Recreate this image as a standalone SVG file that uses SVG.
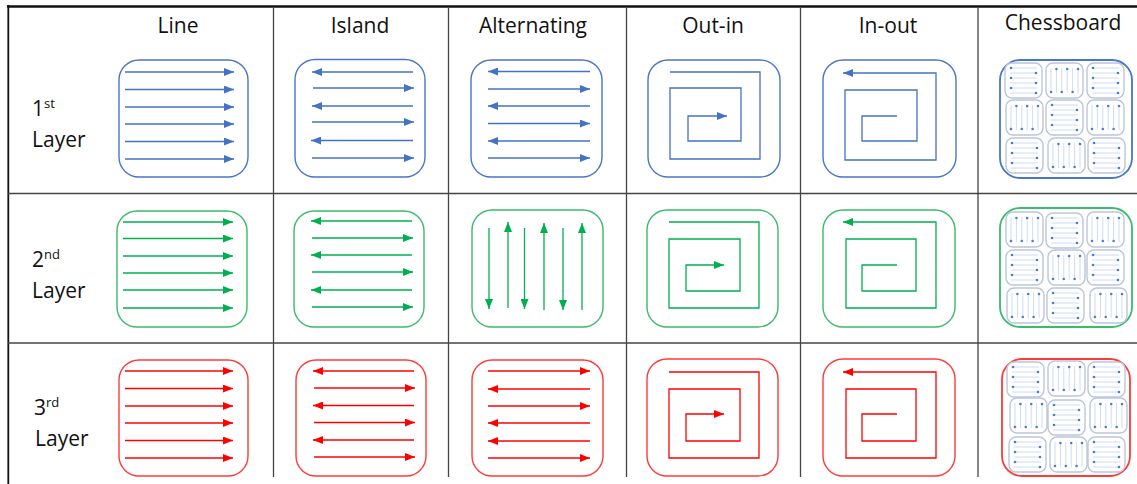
<svg xmlns="http://www.w3.org/2000/svg" xmlns:xlink="http://www.w3.org/1999/xlink" width="1137" height="484" viewBox="0 0 1137 484">
<style>
  .hdr{font-family:"Open Sans","Liberation Sans",sans-serif;font-size:21px;fill:#111;text-anchor:middle}
  .lbl{font-family:"Open Sans","Liberation Sans",sans-serif;font-size:21px;fill:#111}
  .sup{font-size:13px}
  .grid{stroke:#444;stroke-width:1.3;fill:none}
  .box{fill:none;stroke-width:1.4}
  .b{stroke:#4A76C6}
  .g{stroke:#3BBB6B}
  .r{stroke:#FF3A3A}
  .ab{stroke:#4472C4;stroke-width:1.3;fill:none;marker-end:url(#mb)}
  .ag{stroke:#00B050;stroke-width:1.3;fill:none;marker-end:url(#mg)}
  .ar{stroke:#FF0000;stroke-width:1.3;fill:none;marker-end:url(#mr)}
  .cell{fill:#fff;stroke:#BCC5D9;stroke-width:1.4}
  .cl{stroke:#D0DCF1;stroke-width:1}
  .dot{fill:#4F7BCB}
  .cb{fill:none;stroke-width:1.8}
</style>
<defs>
  <marker id="mb" viewBox="0 0 10 8" refX="10" refY="4" markerWidth="10" markerHeight="8" markerUnits="userSpaceOnUse" orient="auto"><path d="M0,0 L10,4 L0,8 z" fill="#4472C4"/></marker>
  <marker id="mg" viewBox="0 0 10 8" refX="10" refY="4" markerWidth="10" markerHeight="8" markerUnits="userSpaceOnUse" orient="auto"><path d="M0,0 L10,4 L0,8 z" fill="#00B050"/></marker>
  <marker id="mr" viewBox="0 0 10 8" refX="10" refY="4" markerWidth="10" markerHeight="8" markerUnits="userSpaceOnUse" orient="auto"><path d="M0,0 L10,4 L0,8 z" fill="#FF0000"/></marker>
  <g id="hcell">
    <rect class="cell" x="0" y="0" width="37" height="35" rx="7"/>
    <g class="cl">
      <line x1="5" y1="5" x2="32" y2="5"/><line x1="5" y1="10" x2="32" y2="10"/>
      <line x1="5" y1="15" x2="32" y2="15"/><line x1="5" y1="20" x2="32" y2="20"/>
      <line x1="5" y1="25" x2="32" y2="25"/><line x1="5" y1="30" x2="32" y2="30"/>
    </g>
    <g class="dot">
      <circle cx="6" cy="5" r="1.3"/><circle cx="31" cy="10" r="1.3"/>
      <circle cx="6" cy="15" r="1.3"/><circle cx="31" cy="20" r="1.3"/>
      <circle cx="6" cy="25" r="1.3"/><circle cx="31" cy="30" r="1.3"/>
    </g>
  </g>
  <g id="vcell">
    <rect class="cell" x="0" y="0" width="37" height="35" rx="7"/>
    <g class="cl">
      <line x1="5" y1="5" x2="5" y2="30"/><line x1="10.4" y1="5" x2="10.4" y2="30"/>
      <line x1="15.8" y1="5" x2="15.8" y2="30"/><line x1="21.2" y1="5" x2="21.2" y2="30"/>
      <line x1="26.6" y1="5" x2="26.6" y2="30"/><line x1="32" y1="5" x2="32" y2="30"/>
    </g>
    <g class="dot">
      <circle cx="5" cy="29" r="1.3"/><circle cx="10.4" cy="6" r="1.3"/>
      <circle cx="15.8" cy="29" r="1.3"/><circle cx="21.2" cy="6" r="1.3"/>
      <circle cx="26.6" cy="29" r="1.3"/><circle cx="32" cy="6" r="1.3"/>
    </g>
  </g>
</defs>
<rect width="1137" height="484" fill="#fff"/>

<g id="table">
  <line x1="7" y1="6.5" x2="1137" y2="6.5" stroke="#111" stroke-width="2.5"/>
  <line x1="8.3" y1="5" x2="8.3" y2="484" stroke="#111" stroke-width="1.8"/>
  <g class="grid">
    <line x1="273.5" y1="7" x2="273.5" y2="477"/>
    <line x1="448.5" y1="7" x2="448.5" y2="477"/>
    <line x1="626.5" y1="7" x2="626.5" y2="477"/>
    <line x1="800.5" y1="7" x2="800.5" y2="477"/>
    <line x1="978" y1="7" x2="978" y2="477"/>
    <line x1="8" y1="193.5" x2="1137" y2="193.5"/>
    <line x1="8" y1="343" x2="1137" y2="343"/>
  </g>
</g>

<g id="headers">
  <text class="hdr" x="178" y="33">Line</text>
  <text class="hdr" x="360" y="33">Island</text>
  <text class="hdr" x="533" y="33">Alternating</text>
  <text class="hdr" x="713" y="33">Out-in</text>
  <text class="hdr" x="888" y="33">In-out</text>
  <text class="hdr" x="1063" y="30">Chessboard</text>
</g>

<g id="layer-labels">
  <text class="lbl" x="32" y="116">1<tspan class="sup" dy="-8">st</tspan></text>
  <text class="lbl" x="32" y="147">Layer</text>
  <text class="lbl" x="32" y="267">2<tspan class="sup" dy="-8">nd</tspan></text>
  <text class="lbl" x="32" y="298">Layer</text>
  <text class="lbl" x="34" y="415">3<tspan class="sup" dy="-8">rd</tspan></text>
  <text class="lbl" x="35" y="446">Layer</text>
</g>

<!-- Row 1 -->
<g id="line-1">
  <rect class="box b" x="119" y="60" width="129" height="117" rx="20"/>
  <g class="ab">
    <line x1="125" y1="72" x2="234" y2="72"/><line x1="125" y1="89.5" x2="234" y2="89.5"/>
    <line x1="125" y1="107" x2="234" y2="107"/><line x1="125" y1="124" x2="234" y2="124"/>
    <line x1="125" y1="141.5" x2="234" y2="141.5"/><line x1="125" y1="159" x2="234" y2="159"/>
  </g>
</g>
<g id="island-1">
  <rect class="box b" x="295" y="59.5" width="130" height="117.5" rx="20"/>
  <g class="ab">
    <line x1="413" y1="72" x2="312" y2="72"/><line x1="313" y1="88" x2="414" y2="88"/>
    <line x1="413" y1="106" x2="312" y2="106"/><line x1="312" y1="122" x2="414" y2="122"/>
    <line x1="413" y1="140.5" x2="311" y2="140.5"/><line x1="312" y1="158" x2="414" y2="158"/>
  </g>
</g>
<g id="alternating-1">
  <rect class="box b" x="471" y="60" width="131" height="117" rx="20"/>
  <g class="ab">
    <line x1="590" y1="71.5" x2="488" y2="71.5"/><line x1="488" y1="89" x2="590" y2="89"/>
    <line x1="590" y1="106" x2="488" y2="106"/><line x1="488" y1="123.5" x2="590" y2="123.5"/>
    <line x1="590" y1="141" x2="488" y2="141"/><line x1="488" y1="158" x2="590" y2="158"/>
  </g>
</g>
<g id="outin-1">
  <rect class="box b" x="648" y="60" width="132" height="117" rx="20"/>
  <polyline class="ab" points="670,72 760,72 760,159 670,159 670,88 741,88 741,141 688,141 688,116 727,116"/>
</g>
<g id="inout-1">
  <rect class="box b" x="823" y="60" width="133" height="117" rx="20"/>
  <polyline class="ab" points="897,116 862,116 862,141 917,141 917,90 845,90 845,160 936,160 936,73 843,73"/>
</g>
<g id="chess-1">
  <rect class="cb b" x="1000" y="60" width="132" height="118" rx="20"/>
  <use xlink:href="#hcell" x="1005" y="63"/><use xlink:href="#vcell" x="1046" y="63"/><use xlink:href="#hcell" x="1087" y="63"/>
  <use xlink:href="#vcell" x="1006" y="100"/><use xlink:href="#hcell" x="1046" y="100"/><use xlink:href="#vcell" x="1087" y="100"/>
  <use xlink:href="#hcell" x="1006" y="138"/><use xlink:href="#vcell" x="1048" y="138"/><use xlink:href="#hcell" x="1088" y="138"/>
</g>

<!-- Row 2 -->
<g id="line-2">
  <rect class="box g" x="117" y="211" width="130" height="116" rx="20"/>
  <g class="ag">
    <line x1="123" y1="222" x2="233" y2="222"/><line x1="123" y1="238.5" x2="233" y2="238.5"/>
    <line x1="123" y1="256" x2="233" y2="256"/><line x1="123" y1="273" x2="233" y2="273"/>
    <line x1="123" y1="290" x2="233" y2="290"/><line x1="123" y1="308" x2="233" y2="308"/>
  </g>
</g>
<g id="island-2">
  <rect class="box g" x="294" y="211" width="130" height="116" rx="20"/>
  <g class="ag">
    <line x1="412" y1="221" x2="311" y2="221"/><line x1="312" y1="238" x2="413" y2="238"/>
    <line x1="412" y1="255" x2="311" y2="255"/><line x1="312" y1="272" x2="413" y2="272"/>
    <line x1="412" y1="290" x2="311" y2="290"/><line x1="312" y1="307" x2="413" y2="307"/>
  </g>
</g>
<g id="alternating-2">
  <rect class="box g" x="472" y="210" width="131" height="117" rx="20"/>
  <g class="ag">
    <line x1="489" y1="228" x2="489" y2="309"/><line x1="508" y1="308" x2="508" y2="222"/>
    <line x1="524.5" y1="228" x2="524.5" y2="309"/><line x1="544" y1="310" x2="544" y2="223"/>
    <line x1="563" y1="228" x2="563" y2="310"/><line x1="582" y1="310" x2="582" y2="223"/>
  </g>
</g>
<g id="outin-2">
  <rect class="box g" x="647" y="210" width="131" height="117" rx="20"/>
  <polyline class="ag" points="669,222 759,222 759,308 669,308 669,239 740,239 740,291 686,291 686,265 724,265"/>
</g>
<g id="inout-2">
  <rect class="box g" x="823" y="210" width="132" height="117" rx="20"/>
  <polyline class="ag" points="897,265 862,265 862,291 916,291 916,239 846,239 846,308 936,308 936,222 843,222"/>
</g>
<g id="chess-2">
  <rect class="cb g" x="1000" y="208" width="132" height="119" rx="20"/>
  <use xlink:href="#vcell" x="1006" y="212"/><use xlink:href="#hcell" x="1046" y="213"/><use xlink:href="#vcell" x="1087" y="212"/>
  <use xlink:href="#hcell" x="1006" y="250"/><use xlink:href="#vcell" x="1048" y="250"/><use xlink:href="#hcell" x="1087" y="250"/>
  <use xlink:href="#vcell" x="1007" y="288"/><use xlink:href="#hcell" x="1047" y="288"/><use xlink:href="#vcell" x="1090" y="288"/>
</g>

<!-- Row 3 -->
<g id="line-3">
  <rect class="box r" x="119" y="360" width="129" height="116" rx="20"/>
  <g class="ar">
    <line x1="125" y1="371" x2="233" y2="371"/><line x1="125" y1="388.5" x2="233" y2="388.5"/>
    <line x1="125" y1="406" x2="233" y2="406"/><line x1="125" y1="423" x2="233" y2="423"/>
    <line x1="125" y1="440.5" x2="233" y2="440.5"/><line x1="125" y1="458" x2="233" y2="458"/>
  </g>
</g>
<g id="island-3">
  <rect class="box r" x="296" y="360" width="130" height="116" rx="20"/>
  <g class="ar">
    <line x1="414" y1="371" x2="313" y2="371"/><line x1="314" y1="388" x2="415" y2="388"/>
    <line x1="414" y1="405.5" x2="313" y2="405.5"/><line x1="314" y1="422.5" x2="415" y2="422.5"/>
    <line x1="414" y1="440" x2="313" y2="440"/><line x1="314" y1="457" x2="415" y2="457"/>
  </g>
</g>
<g id="alternating-3">
  <rect class="box r" x="472" y="360" width="131" height="116" rx="20"/>
  <g class="ar">
    <line x1="488" y1="371" x2="590" y2="371"/><line x1="590" y1="389" x2="488" y2="389"/>
    <line x1="488" y1="406" x2="590" y2="406"/><line x1="590" y1="423" x2="488" y2="423"/>
    <line x1="590" y1="441" x2="488" y2="441"/><line x1="488" y1="458" x2="590" y2="458"/>
  </g>
</g>
<g id="outin-3">
  <rect class="box r" x="647" y="359" width="131" height="117" rx="20"/>
  <polyline class="ar" points="669,372 759,372 759,458 669,458 669,389 740,389 740,441 686,441 686,414 724,414"/>
</g>
<g id="inout-3">
  <rect class="box r" x="823" y="359" width="132" height="117" rx="20"/>
  <polyline class="ar" points="897,414 862,414 862,441 916,441 916,389 846,389 846,458 936,458 936,372 843,372"/>
</g>
<g id="chess-3">
  <rect class="cb r" x="1002" y="359" width="128" height="117" rx="20"/>
  <use xlink:href="#hcell" x="1007" y="362"/><use xlink:href="#vcell" x="1048" y="361"/><use xlink:href="#hcell" x="1088" y="362"/>
  <use xlink:href="#vcell" x="1010" y="398"/><use xlink:href="#hcell" x="1048" y="400"/><use xlink:href="#vcell" x="1090" y="398"/>
  <use xlink:href="#hcell" x="1009" y="437"/><use xlink:href="#vcell" x="1050" y="437"/><use xlink:href="#hcell" x="1088" y="437"/>
</g>
</svg>
